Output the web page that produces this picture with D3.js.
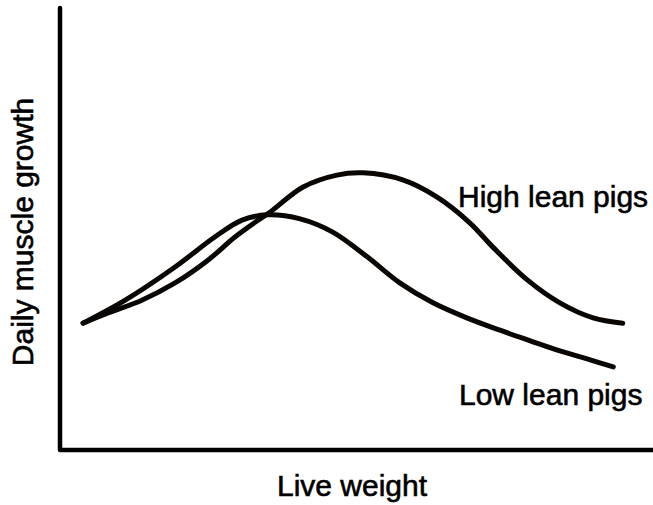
<!DOCTYPE html>
<html>
<head>
<meta charset="utf-8">
<script src="https://cdn.jsdelivr.net/npm/d3@7"></script>
<style>
  body { margin: 0; background: #fff; }
  text { font-family: "Liberation Sans", Arial, Helvetica, sans-serif; fill: #000; stroke: #000; stroke-width: 0.6px; }
</style>
</head>
<body>
<div id="chart"></div>
<script>
// values (arbitrary units, 0-100 on each axis)
const highLeanWeight = [3.9, 8.1, 13.8, 19.4, 25.0, 29.5, 33.4, 35.4, 41.0, 46.7, 51.1, 57.8, 63.6, 69.1, 73.0, 78.8, 84.3, 89.9, 94.9];
const highLeanGrowth = [28.7, 31.0, 33.9, 37.8, 43.0, 48.2, 52.0, 53.8, 59.5, 62.2, 62.7, 61.1, 57.2, 51.4, 45.9, 38.5, 33.3, 29.9, 28.7];
const lowLeanWeight = [3.9, 11.0, 19.4, 26.1, 30.7, 34.9, 40.5, 46.0, 51.8, 57.3, 62.9, 68.6, 74.2, 79.3, 84.3, 89.4, 93.3];
const lowLeanGrowth = [28.7, 33.9, 41.4, 48.2, 52.0, 53.2, 52.3, 49.3, 43.7, 37.8, 33.3, 29.9, 27.1, 24.7, 22.4, 20.4, 18.8];
const seriesLabels = ["High lean pigs", "Low lean pigs"];
const xAxisLabel = "Live weight";
const yAxisLabel = "Daily muscle growth";

const width = 653, height = 505;
const margin = { top: 8, right: 0, bottom: 55, left: 60 };

const svg = d3.select("#chart").append("svg")
  .attr("width", width)
  .attr("height", height);

const x = d3.scaleLinear().domain([0, 100]).range([margin.left, width - margin.right]);
const y = d3.scaleLinear().domain([0, 100]).range([height - margin.bottom, margin.top]);

// axes are plain thick lines, no ticks
svg.append("path")
  .attr("d", `M${x(0)},${y(100)}V${y(0)}H${x(100)}`)
  .attr("fill", "none")
  .attr("stroke", "#000")
  .attr("stroke-width", 4.5)
  .attr("stroke-linecap", "round")
  .attr("stroke-linejoin", "round");

const line = d3.line()
  .x((d) => x(d[0]))
  .y((d) => y(d[1]))
  .curve(d3.curveCatmullRom.alpha(0.5));

const series = [
  d3.zip(highLeanWeight, highLeanGrowth),
  d3.zip(lowLeanWeight, lowLeanGrowth),
];

svg.selectAll(".curve")
  .data(series)
  .enter()
  .append("path")
  .attr("class", "curve")
  .attr("d", line)
  .attr("fill", "none")
  .attr("stroke", "#0a0604")
  .attr("stroke-width", 5)
  .attr("stroke-linecap", "round");

// series labels
svg.append("text")
  .attr("x", 458)
  .attr("y", 207)
  .style("font-size", "30px")
  .text(seriesLabels[0]);

svg.append("text")
  .attr("x", 459)
  .attr("y", 405)
  .style("font-size", "30px")
  .text(seriesLabels[1]);

// axis labels
svg.append("text")
  .attr("x", 352)
  .attr("y", 496)
  .attr("text-anchor", "middle")
  .style("font-size", "30px")
  .text(xAxisLabel);

svg.append("text")
  .attr("transform", "translate(33,232) rotate(-90)")
  .attr("text-anchor", "middle")
  .style("font-size", "30px")
  .text(yAxisLabel);
</script>
</body>
</html>
